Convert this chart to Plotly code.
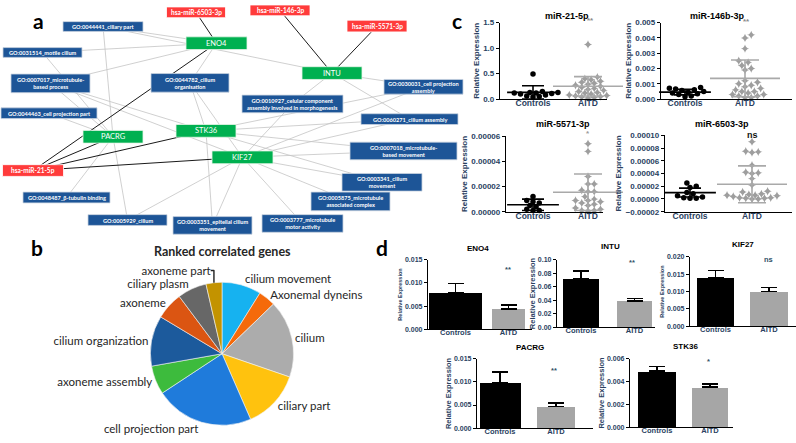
import plotly.graph_objects as go

W, H = 796, 443

# ================= DATA =================
# ---- panel a: network ----
net_nodes = ["miR-6503", "miR-146", "miR-5571", "miR-21",
             "ENO4", "INTU", "PACRG", "STK36", "KIF27",
             "GO:0044441", "GO:0031514", "GO:0007017", "GO:0044463", "GO:0044782",
             "GO:0010927", "GO:0030031", "GO:0060271", "GO:0007018", "GO:0003341",
             "GO:0005875", "GO:0003777", "GO:0003351", "GO:0005929", "GO:0048487"]
net_labels = ["hsa-miR-6503-3p", "hsa-miR-146-3p", "hsa-miR-5571-3p", "hsa-miR-21-5p",
              "ENO4", "INTU", "PACRG", "STK36", "KIF27",
              "GO:0044441_ciliary part", "GO:0031514_motile cilium",
              "GO:0007017_microtubule-<br>based process", "GO:0044463_cell projection part",
              "GO:0044782_cilium<br>organisation",
              "GO:0010927_celular component<br>assembly involved in morphogenesis",
              "GO:0030031_cell projection<br>assembly", "GO:0060271_cilium assembly",
              "GO:0007018_microtubule-<br>based movement", "GO:0003341_cilium<br>movement",
              "GO:0005875_microtubule<br>associated complex", "GO:0003777_microtubule<br>motor activity",
              "GO:0003351_epitelial cilium<br>movement", "GO:0005929_cilium",
              "GO:0048487_β-tubulin binding"]
net_kinds = ["mirna"] * 4 + ["gene"] * 5 + ["go"] * 15
mirna_gene_edges = [("miR-6503", "ENO4"), ("miR-146", "INTU"), ("miR-5571", "INTU"),
                    ("miR-21", "ENO4"), ("miR-21", "PACRG"), ("miR-21", "STK36"), ("miR-21", "KIF27")]
gene_go_edges = [
    ("ENO4", "GO:0044441"), ("ENO4", "GO:0031514"), ("ENO4", "GO:0007017"), ("ENO4", "GO:0044782"),
    ("INTU", "GO:0044441"), ("INTU", "GO:0030031"), ("INTU", "GO:0060271"), ("INTU", "GO:0010927"),
    ("PACRG", "GO:0044441"), ("PACRG", "GO:0031514"), ("PACRG", "GO:0007017"), ("PACRG", "GO:0044463"),
    ("PACRG", "GO:0048487"), ("PACRG", "GO:0005929"),
    ("STK36", "GO:0007017"), ("STK36", "GO:0044782"), ("STK36", "GO:0030031"), ("STK36", "GO:0060271"),
    ("STK36", "GO:0007018"), ("STK36", "GO:0003341"), ("STK36", "GO:0003351"),
    ("KIF27", "GO:0007017"), ("KIF27", "GO:0044782"), ("KIF27", "GO:0010927"), ("KIF27", "GO:0030031"),
    ("KIF27", "GO:0060271"), ("KIF27", "GO:0007018"), ("KIF27", "GO:0003341"), ("KIF27", "GO:0005875"),
    ("KIF27", "GO:0003777"), ("KIF27", "GO:0003351"), ("KIF27", "GO:0005929"),
]

# ---- panel b: pie ----
pie_labels = ["cilium movement", "Axonemal dyneins", "cilium", "ciliary part", "cell projection part",
              "axoneme assembly", "cilium organization", "axoneme", "ciliary plasm", "axoneme part"]
pie_values = [8.9, 3.9, 17.5, 13.2, 22.3, 6.5, 11.4, 6.2, 6.6, 3.6]

# ---- panel c: dot plots ----
c_titles = ["miR-21-5p", "miR-146b-3p", "miR-5571-3p", "miR-6503-3p"]
groups = ["Controls", "AITD"]
mir21_controls = [0.49, 0.15, 0.13, 0.13, 0.12, 0.12, 0.11, 0.10, 0.08, 0.06, 0.05, 0.04]
mir21_aitd = [1.07, 0.43, 0.40, 0.38, 0.35, 0.33, 0.31, 0.29, 0.27, 0.25, 0.23, 0.21, 0.19, 0.17,
              0.15, 0.13, 0.12, 0.10, 0.09, 0.08, 0.07, 0.06, 0.05, 0.04, 0.03, 0.02]
mir146_controls = [0.00075, 0.0007, 0.00065, 0.0006, 0.00055, 0.0005, 0.00045, 0.0004, 0.00035,
                   0.0003, 0.0002, 0.00015]
mir146_aitd = [0.0042, 0.0040, 0.0033, 0.0025, 0.0024, 0.0022, 0.0020, 0.0019, 0.0012, 0.0011,
               0.0010, 0.0009, 0.0008, 0.0007, 0.0006, 0.0005, 0.0005, 0.0004, 0.0003, 0.0003,
               0.0002, 0.0002, 0.0001, 0.0001]
mir5571_controls = [1.2e-5, 9e-6, 8e-6, 7e-6, 5e-6, 4e-6, 2e-6, 1e-6, 1e-6]
mir5571_aitd = [5.4e-5, 4.8e-5, 2.8e-5, 2.2e-5, 2.2e-5, 1.7e-5, 1.6e-5, 1.6e-5, 1.2e-5, 1.0e-5,
                9e-6, 9e-6, 8e-6, 7e-6, 6e-6, 5e-6, 3e-6, 2e-6, 1e-6, 1e-6, 0.5e-6]
mir6503_controls = [2.5e-5, 2.0e-5, 1.8e-5, 1.0e-5, 8e-6, 5e-6, 3e-6, 2e-6, 1e-6, 1e-6]
mir6503_aitd = [9.0e-5, 7.5e-5, 7.4e-5, 7.3e-5, 5.3e-5, 4.2e-5, 4.1e-5, 4.0e-5, 3.2e-5, 2.2e-5,
                1.2e-5, 1.1e-5, 8e-6, 7e-6, 6e-6, 6e-6, 5e-6, 4e-6, 2e-6, 2e-6, 1e-6, 1e-6, 0.0, 0.0]
c_controls = [mir21_controls, mir146_controls, mir5571_controls, mir6503_controls]
c_aitd = [mir21_aitd, mir146_aitd, mir5571_aitd, mir6503_aitd]
c_means = [[0.13, 0.25], [0.00045, 0.00135], [5.5e-6, 1.55e-5], [1.0e-5, 2.3e-5]]
c_sds = [[0.13, 0.19], [0.00018, 0.0012], [4.5e-6, 1.45e-5], [7e-6, 2.9e-5]]
c_sig = ["**", "**", "*", "ns"]
c_yticks = [[0, 0.5, 1.0, 1.5], [0, 0.001, 0.002, 0.003, 0.004, 0.005],
            [0, 0.00002, 0.00004, 0.00006], [-0.00002, 0, 0.00002, 0.00004, 0.00006, 0.00008, 0.0001]]

# ---- panel d: bar charts ----
d_titles = ["ENO4", "INTU", "KIF27", "PACRG", "STK36"]
d_means = [[0.0079, 0.0044], [0.0714, 0.0387], [0.0141, 0.01005], [0.0098, 0.0047], [0.0049, 0.0035]]
d_errs = [[0.0020, 0.0008], [0.0116, 0.0038], [0.0020, 0.0011], [0.0023, 0.0007], [0.0004, 0.0003]]
d_sig = ["**", "**", "ns", "**", "*"]
d_yticks = [[0, 0.005, 0.010, 0.015], [0, 0.02, 0.04, 0.06, 0.08, 0.10],
            [0, 0.005, 0.010, 0.015, 0.020], [0, 0.005, 0.010, 0.015], [0, 0.002, 0.004, 0.006]]

# ================= LAYOUT / STYLE =================
net_layout = {  # centre x, centre y, width, height (pixels)
    "miR-6503": (196, 8.5, 59, 11), "miR-146": (280, 6.5, 60, 11), "miR-5571": (377, 22.5, 60, 12),
    "miR-21": (33, 170, 61, 12),
    "ENO4": (216.5, 40, 61, 13), "INTU": (332, 70.5, 60, 13), "PACRG": (113, 135.5, 60, 13),
    "STK36": (206, 129.5, 60, 13), "KIF27": (242.5, 156.5, 61, 13),
    "GO:0044441": (103, 23, 80, 10), "GO:0031514": (42.5, 49.5, 79, 10),
    "GO:0007017": (50.5, 81, 79, 19), "GO:0044463": (49, 111.5, 96, 11),
    "GO:0044782": (190, 80.5, 78, 19), "GO:0010927": (292.5, 102, 101, 18),
    "GO:0030031": (423.5, 84.5, 79, 15), "GO:0060271": (409.5, 117.5, 97, 11),
    "GO:0007018": (403.5, 150, 107, 18), "GO:0003341": (382, 182, 80, 18),
    "GO:0005875": (350.5, 201.5, 79, 19), "GO:0003777": (302.5, 224, 81, 18),
    "GO:0003351": (212.5, 226, 79, 18), "GO:0005929": (127.5, 220.5, 79, 11),
    "GO:0048487": (66.5, 197.5, 87, 11),
}
kind_style = {"mirna": ("#FF3B3B", "#ffffff", 6.5), "gene": ("#00B050", "#e8f5e8", 7.5),
              "go": ("#1D5597", "#c9d3e0", 5.6)}

ARIAL = "Liberation Sans, Arial"
CAL = "Lato, Noto Sans"

fig = go.Figure()
annotations = []
shapes = []

# pixel-space axis covering whole page
layout_axes = dict(
    xaxis=dict(domain=[0, 1], range=[0, W], visible=False, fixedrange=True),
    yaxis=dict(domain=[0, 1], range=[H, 0], visible=False, fixedrange=True),
)

def pix_ann(x, y, text, size, color="#000", bold=False, family=ARIAL, xanchor="center", yanchor="middle"):
    annotations.append(dict(x=x, y=y, xref="x", yref="y", text=text, showarrow=False,
                            xanchor=xanchor, yanchor=yanchor,
                            font=dict(family=family, size=size, color=color,
                                      weight="bold" if bold else "normal")))

# ---- panel a ----
for edges, col, wdt in [(gene_go_edges, "#c4c4c4", 0.8), (mirna_gene_edges, "#1a1a1a", 1.0)]:
    ex, ey = [], []
    for a, b in edges:
        ex += [net_layout[a][0], net_layout[b][0], None]
        ey += [net_layout[a][1], net_layout[b][1], None]
    fig.add_trace(go.Scatter(x=ex, y=ey, mode="lines", line=dict(color=col, width=wdt),
                             hoverinfo="skip", showlegend=False, xaxis="x", yaxis="y"))
for name, label, kind in zip(net_nodes, net_labels, net_kinds):
    cx, cy, w, h = net_layout[name]
    fill, border, fs = kind_style[kind]
    shapes.append(dict(type="rect", xref="x", yref="y", x0=cx - w / 2, x1=cx + w / 2,
                       y0=cy - h / 2, y1=cy + h / 2, fillcolor=fill,
                       line=dict(color=border, width=0.8), layer="above"))
    annotations.append(dict(x=cx, y=cy, xref="x", yref="y", text=label, showarrow=False,
                            font=dict(family=CAL, size=fs, color="white",
                                      weight="bold" if kind != "gene" else "normal"),
                            align="center"))

pix_ann(38, 17, "a", 21, bold=True, family=CAL)
pix_ann(37, 249, "b", 21, bold=True, family=CAL)
pix_ann(457, 17, "c", 21, bold=True, family=CAL)
pix_ann(382, 249, "d", 21, bold=True, family=CAL)

# ---- panel b ----
pie_colors = ["#16B2F0", "#F56A0A", "#ACACAC", "#FFC20E", "#1F7BDB", "#3DBB3D", "#1C5A9C",
              "#DB5512", "#676767", "#C39300"]
fig.add_trace(go.Pie(labels=pie_labels, values=pie_values, sort=False, direction="clockwise",
                     rotation=0, domain=dict(x=[149 / W, 295 / W], y=[1 - 430 / H, 1 - 284 / H]),
                     textposition="outside", textinfo="label",
                     textfont=dict(family=CAL, size=11.5, color="#262626"),
                     marker=dict(colors=pie_colors, line=dict(color="#f4f4f4", width=0.6)),
                     showlegend=False, hoverinfo="label+value"))
pix_ann(222, 253, "Ranked correlated genes", 12.5, color="#262626", bold=True, family=CAL)

# ---- helpers ----
def dom_x(l, r):
    return [l / W, r / W]

def dom_y(t, b):
    return [1 - b / H, 1 - t / H]

def beeswarm(vals, ppu_y, diam):
    order = sorted(range(len(vals)), key=lambda i: vals[i])
    placed, offs = [], [0.0] * len(vals)
    step = diam * 0.6
    for i in order:
        y = vals[i] * ppu_y
        cand = 0.0
        for k in range(0, 60):
            cand = 0.0 if k == 0 else ((k + 1) // 2) * step * (1 if k % 2 else -1)
            if all((cand - px) ** 2 + (y - py) ** 2 >= (diam * 0.92) ** 2 for px, py in placed):
                break
        placed.append((cand, y))
        offs[i] = cand
    return offs

axis_line = dict(showline=True, linecolor="black", linewidth=1.3, showgrid=False, zeroline=False,
                 fixedrange=True)

# ---- panel c ----
c_geom = [(500, 607, 19, 97, 533, 588), (661, 792, 19, 97, 685, 745),
          (506, 603, 135, 212, 533, 588), (665, 792, 134, 212, 690, 752)]
c_fmt = [".1f", ".3f", ".5f", ".5f"]
c_title_pos = [(567, 12), (717, 12), (563, 122), (722, 122)]
c_sig_pos = [(590, 17), (746, 18), (588, 132), (752, 134)]
c_sig_style = [("#8a8a8a", 8), ("#8a8a8a", 8), ("#9a9a9a", 8), ("#111111", 9)]

for k in range(4):
    n = k + 2
    L, R, T, B, c0, c1 = c_geom[k]
    ymin, ymax = c_yticks[k][0], c_yticks[k][-1]
    d = c1 - c0
    ppu_y = (B - T) / (ymax - ymin)
    for g, vals, col, sym, msz in [(0, c_controls[k], "black", "circle", 5.5),
                                   (1, c_aitd[k], "#9e9e9e", "star-diamond", 6)]:
        offs = beeswarm(vals, ppu_y, 5.2)
        fig.add_trace(go.Scatter(x=[g + o / d for o in offs], y=vals, mode="markers",
                                 marker=dict(color=col, symbol=sym, size=msz, line=dict(width=0)),
                                 xaxis=f"x{n}", yaxis=f"y{n}", showlegend=False, cliponaxis=False,
                                 hoverinfo="y"))
    for g, col, mw, cw in [(0, "black", 37, 11), (1, "#a9a9a9", 50, 14)]:
        fig.add_trace(go.Scatter(x=[g], y=[c_means[k][g]], mode="markers",
                                 marker=dict(symbol="line-ew", size=mw, color=col,
                                             line=dict(color=col, width=1.6)),
                                 error_y=dict(type="data", array=[c_sds[k][g]], color=col,
                                              thickness=1.6, width=cw),
                                 xaxis=f"x{n}", yaxis=f"y{n}", showlegend=False, cliponaxis=False,
                                 hoverinfo="y"))
    layout_axes[f"xaxis{n}"] = dict(domain=dom_x(L, R), anchor=f"y{n}",
                                    range=[(L - c0) / d, (R - c0) / d], tickvals=[0, 1],
                                    ticktext=groups, ticks="", ticklabelstandoff=-4,
                                    tickfont=dict(family=ARIAL, size=8.5, weight="bold"), **axis_line)
    layout_axes[f"yaxis{n}"] = dict(domain=dom_y(T, B), anchor=f"x{n}", range=[ymin, ymax],
                                    tickvals=c_yticks[k], tickformat=c_fmt[k], ticks="outside",
                                    ticklen=3, tickwidth=1.2, tickcolor="black",
                                    tickfont=dict(family=ARIAL, size=8, weight="bold"),
                                    title=dict(text="Relative Expression", standoff=2,
                                               font=dict(family=ARIAL, size=8, weight="bold")),
                                    **axis_line)
    pix_ann(*c_title_pos[k], c_titles[k], 9, bold=True)
    pix_ann(*c_sig_pos[k], c_sig[k], c_sig_style[k][1], color=c_sig_style[k][0], bold=True)

# ---- panel d ----
d_geom = [(428, 532, 261, 332, 455.5, 508.5), (557, 655, 261, 330, 581, 634.5),
          (690, 796, 258, 329, 715.5, 769), (477, 593, 362, 433, 500, 556),
          (630, 733, 362, 432, 657, 710)]
d_fmt = [".3f", ".2f", ".3f", ".3f", ".3f"]
d_barw = [(53, 33), (36, 35), (37, 38), (41, 38), (38, 36)]
d_title_pos = [(478, 250), (610, 248), (743, 245), (530, 351), (685, 350)]
d_sig_pos = [(508, 271), (632, 264), (768, 261), (554, 374), (708, 365)]
d_ytitle_size = [5.5, 7.5, 5.5, 7.5, 7.5]

for k in range(5):
    n = k + 6
    L, R, T, B, c0, c1 = d_geom[k]
    d = c1 - c0
    ymax = d_yticks[k][-1]
    fig.add_trace(go.Bar(x=[0, 1], y=d_means[k], width=[w / d for w in d_barw[k]],
                         marker=dict(color=["black", "#a6a6a6"], line=dict(width=0)),
                         error_y=dict(type="data", symmetric=False, array=d_errs[k], arrayminus=[0, 0],
                                      color="black", thickness=1.5, width=8),
                         xaxis=f"x{n}", yaxis=f"y{n}", showlegend=False, hoverinfo="y"))
    layout_axes[f"xaxis{n}"] = dict(domain=dom_x(L, R), anchor=f"y{n}",
                                    range=[(L - c0) / d, (R - c0) / d], tickvals=[0, 1],
                                    ticktext=groups, ticks="", ticklabelstandoff=-4,
                                    tickfont=dict(family=ARIAL, size=7.5, weight="bold"), **axis_line)
    layout_axes[f"yaxis{n}"] = dict(domain=dom_y(T, B), anchor=f"x{n}", range=[0, ymax],
                                    tickvals=d_yticks[k], tickformat=d_fmt[k], ticks="outside",
                                    ticklen=3, tickwidth=1.1, tickcolor="black",
                                    tickfont=dict(family=ARIAL, size=7, weight="bold"),
                                    title=dict(text="Relative Expression", standoff=1,
                                               font=dict(family=ARIAL, size=d_ytitle_size[k],
                                                         weight="bold")),
                                    **axis_line)
    pix_ann(*d_title_pos[k], d_titles[k], 8, bold=True)
    pix_ann(*d_sig_pos[k], d_sig[k], 7.5, color="#2f4f66", bold=True)

fig.update_layout(width=W, height=H, margin=dict(l=0, r=0, t=0, b=0),
                  paper_bgcolor="white", plot_bgcolor="rgba(0,0,0,0)",
                  annotations=annotations, shapes=shapes, bargap=0, **layout_axes)

fig.write_html("out.html", config={"displayModeBar": False},
               post_script="document.body.style.margin='0';document.body.style.overflow='hidden';")
